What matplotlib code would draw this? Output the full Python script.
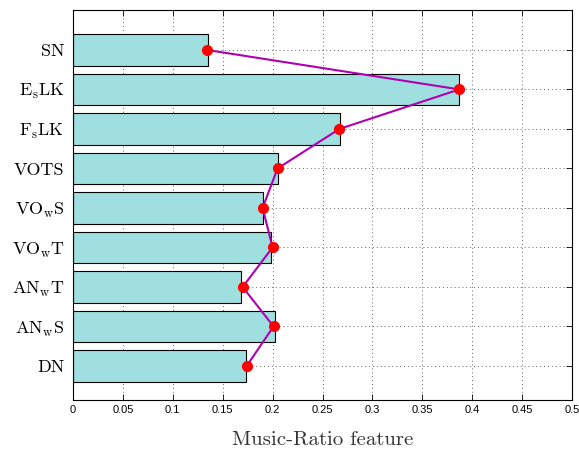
import numpy as np
import matplotlib.pyplot as plt

features = ['SN', r'E$_{\mathrm{s}}$LK', r'F$_{\mathrm{s}}$LK', 'VOTS', r'VO$_{\mathrm{w}}$S',
            r'VO$_{\mathrm{w}}$T', r'AN$_{\mathrm{w}}$T', r'AN$_{\mathrm{w}}$S', 'DN']
bar_vals = [0.135, 0.387, 0.268, 0.205, 0.190, 0.198, 0.168, 0.202, 0.173]
line_vals = [0.134, 0.387, 0.267, 0.205, 0.190, 0.200, 0.170, 0.201, 0.174]
xticks = [0, 0.05, 0.1, 0.15, 0.2, 0.25, 0.3, 0.35, 0.4, 0.45, 0.5]

plt.rcParams['font.family'] = 'serif'
plt.rcParams['font.serif'] = ['cmr10', 'DejaVu Serif']
plt.rcParams['mathtext.fontset'] = 'cm'
plt.rcParams['axes.formatter.use_mathtext'] = True

fig = plt.figure(figsize=(5.79, 4.55), dpi=100)
ax = fig.add_axes([0.126, 0.121, 0.862, 0.857])

y = np.arange(len(features))[::-1] + 1
ax.barh(y, bar_vals, height=0.8, color='#a0dfe0', edgecolor='black', linewidth=0.8, zorder=2)
ax.plot(line_vals, y, color='#b000b0', linewidth=1.5, marker='o', markersize=7,
        markerfacecolor='red', markeredgecolor='red', zorder=3)

ax.set_xlim(0, 0.5)
ax.set_ylim(0.14, 10.01)
ax.set_yticks(y)
ax.set_yticklabels(features, fontsize=13)
ax.set_xticks(xticks)
ax.set_xticklabels([f'{v:g}' for v in xticks], fontsize=8, family='Liberation Sans')
ax.tick_params(direction='in', top=True, right=True, length=4, width=0.6)
ax.tick_params(axis='y', pad=6)
ax.grid(True, linestyle=(0, (1, 3)), color='black', linewidth=0.7, alpha=0.6, zorder=0)
ax.set_axisbelow(True)
ax.set_xlabel('Music-Ratio feature', fontsize=15, labelpad=12, color='#333333')

fig.savefig('out.png', dpi=100)
